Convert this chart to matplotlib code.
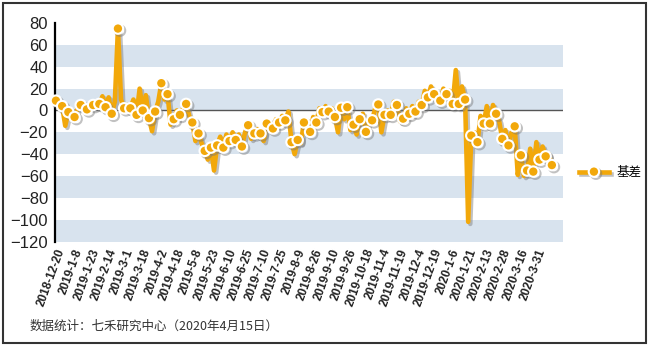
import matplotlib
matplotlib.use('Agg')
import matplotlib.pyplot as plt
import matplotlib.patheffects as pe
from matplotlib.patches import Rectangle
import numpy as np

# basis values (roughly every other trading day)
basis = [9, 6, 4, -14, -1.5, 0, -6, 2, 5, 3,
         1, 6, 5, 8, 6, 13, 3, 12, -3, 8,
         75, 10, 2, 5, 2, 10, -4, 20, 0, 14,
         -7, -19, -1, 8, 25, 10, 15, -13, -8, 0,
         -4, 2, 6, -5, -11, -28, -21, -30, -37, -45,
         -34, -55, -32, -24, -34, -22, -28, -20, -27, -22,
         -33, -20, -13.5, -26, -21, -17, -21, -28, -12, -16,
         -16.5, -8, -11, -5, -9, -1, -29, -40, -27, -30,
         -11, -15, -19.6, -6, -11, 2, -1.5, 4, -1, 2,
         -6, -20, 2.5, -8, 3, -18, -13, -22, -8, -3,
         -19.6, -8, -9, 2, 5.5, -20, -4, 0, -4, 8,
         5, -10, -7.5, 2, -3, 4, -1, 8, 5, 18,
         12, 22, 15, 10, 9, 20, 15, 18, 6, 37,
         6, 22, 10, -102, -23, -20, -29, -5, -12, 4,
         -12, 5, -3, -10, -26, -18, -32, -20, -14.5, -59,
         -41, -60, -55, -35, -56, -29, -45, -33, -42, -40,
         -50]

tick_labels = ['2018-12-20', '2019-1-8', '2019-1-23', '2019-2-14', '2019-3-1',
               '2019-3-18', '2019-4-2', '2019-4-18', '2019-5-8', '2019-5-23',
               '2019-6-10', '2019-6-25', '2019-7-10', '2019-7-25', '2019-8-9',
               '2019-8-26', '2019-9-10', '2019-9-26', '2019-10-18', '2019-11-4',
               '2019-11-19', '2019-12-4', '2019-12-19', '2020-1-6', '2020-1-21',
               '2020-2-13', '2020-2-28', '2020-3-16', '2020-3-31']

total_days = 318   # trading days 2018-12-20 .. 2020-4-15
tick_step = 11

orange = '#F2A80A'
band = '#D8E3EE'

x = np.linspace(0, total_days, len(basis))

fig = plt.figure(figsize=(6.51, 3.45), dpi=100)
ax = fig.add_axes([0.0845, 0.30, 0.78, 0.633])

for lo in [40, 0, -40, -80, -120]:
    ax.axhspan(lo, lo + 20, color=band, lw=0, zorder=0)
ax.axhline(0, color='#555555', lw=1, zorder=1)

ax.plot(x, basis, color=orange, lw=3.3, marker='o', markevery=2, ms=7.5,
        mfc=orange, mec='white', mew=1.5, zorder=3, label='基差', clip_on=False,
        path_effects=[pe.SimpleLineShadow(offset=(1.5, -1.5), shadow_color='#777777', alpha=0.45),
                      pe.Normal()])

ax.set_xlim(-0.6, 325)
ax.set_ylim(-120, 80)
ax.set_yticks(np.arange(-120, 81, 20))
ax.set_xticks(np.arange(len(tick_labels)) * tick_step)
ax.set_xticklabels(tick_labels, rotation=70, ha='right', rotation_mode='anchor',
                   fontsize=8.5, fontweight='bold', color='#222222', family='Liberation Sans')
for t in ax.get_yticklabels():
    t.set_family('Liberation Sans')
ax.tick_params(axis='y', labelsize=12, length=0, pad=5, colors='#222222')
ax.tick_params(axis='x', length=0, pad=4)

for s in ['top', 'right', 'bottom']:
    ax.spines[s].set_visible(False)
ax.spines['left'].set_linewidth(1.6)
ax.spines['left'].set_color('black')
ax.spines['left'].set_zorder(2)

fig.legend(loc='center left', bbox_to_anchor=(0.872, 0.50), frameon=False,
           handlelength=2.4, handletextpad=0.6,
           prop={'family': ['Noto Sans CJK SC', 'DejaVu Sans'], 'size': 9})

fig.text(30 / 651, 1 - 326 / 345, '数据统计：七禾研究中心（2020年4月15日）', va='center',
         fontsize=9, color='#333333', family=['Noto Sans CJK SC', 'DejaVu Sans'])

fig.patches.append(Rectangle((0.004, 0.007), 0.989, 0.985, transform=fig.transFigure,
                             fill=False, ec='#333333', lw=1.5))

fig.savefig('out.png', dpi=100)
